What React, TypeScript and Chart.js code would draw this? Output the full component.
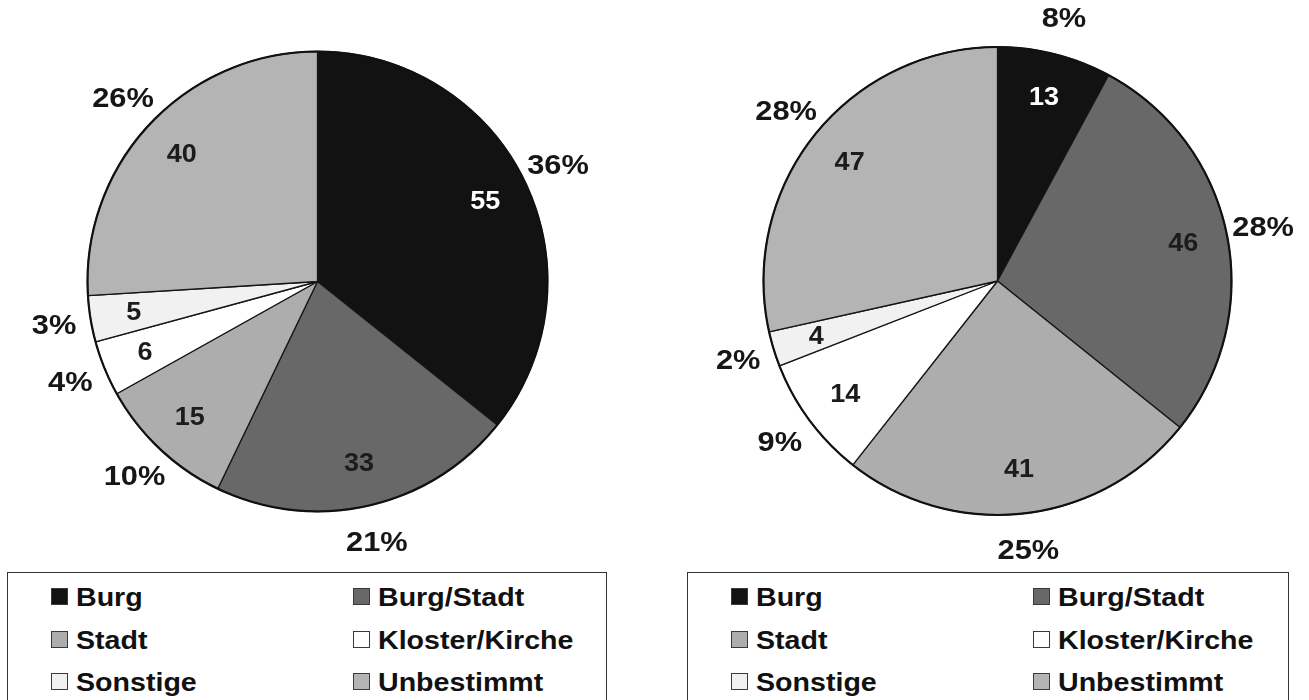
import { useEffect, useRef } from 'react';
import { Chart, PieController, ArcElement } from 'chart.js';

Chart.register(PieController, ArcElement);

// Categories and their fills
const categories = ['Burg', 'Burg/Stadt', 'Stadt', 'Kloster/Kirche', 'Sonstige', 'Unbestimmt'];
const sliceColors = ['#121212', '#686868', '#adadad', '#ffffff', '#f1f1f1', '#b4b4b4'];

// Left pie: counts and printed shares (%)
const leftCounts = [55, 33, 15, 6, 5, 40];
const leftShares = [36, 21, 10, 4, 3, 26];

// Right pie: counts and printed shares (%)
const rightCounts = [13, 46, 41, 14, 4, 47];
const rightShares = [8, 28, 25, 9, 2, 28];

const FONT = "'Liberation Sans', Arial, Helvetica, sans-serif";

// Draws text slightly widened around its centre point
function wideText(ctx: CanvasRenderingContext2D, text: string, x: number, y: number, stretch: number) {
  ctx.save();
  ctx.translate(x, y);
  ctx.scale(stretch, 1);
  ctx.fillText(text, 0, 0);
  ctx.restore();
}

const sliceLabels = {
  id: 'sliceLabels',
  afterDatasetsDraw(chart: any, _args: any, opts: any) {
    const ctx = chart.ctx as CanvasRenderingContext2D;
    const meta = chart.getDatasetMeta(0);
    const values = chart.data.datasets[0].data as number[];
    const shares = opts.shares as number[];
    if (!meta.data.length) return;
    const { x, y, outerRadius } = meta.data[0].getProps(['x', 'y', 'outerRadius'], true);
    ctx.save();
    // heavier outer rim
    ctx.beginPath();
    ctx.arc(x, y, outerRadius, 0, Math.PI * 2);
    ctx.lineWidth = 2.2;
    ctx.strokeStyle = '#111';
    ctx.stroke();

    ctx.textAlign = 'center';
    ctx.textBaseline = 'middle';
    meta.data.forEach((arc: any, i: number) => {
      const p = arc.getProps(['startAngle', 'endAngle'], true);
      const mid = (p.startAngle + p.endAngle) / 2;
      const c = Math.cos(mid);
      const s = Math.sin(mid);
      const rIn = outerRadius * 0.81;
      ctx.font = `bold 25px ${FONT}`;
      ctx.fillStyle = i === 0 ? '#ffffff' : '#1c1c1c';
      wideText(ctx, String(values[i]), x + c * rIn, y + s * rIn + 1, 1.08);
      const rOut = outerRadius + 37;
      ctx.font = `bold 28px ${FONT}`;
      ctx.fillStyle = '#161616';
      wideText(ctx, `${shares[i]}%`, x + c * rOut, y + s * rOut + 1, 1.1);
    });
    ctx.restore();
  },
};

type PieProps = {
  counts: number[];
  shares: number[];
  left: number;
  width: number;
  height: number;
  radius: number;
  padding: { left: number; right: number; top: number; bottom: number };
};

function Pie({ counts, shares, left, width, height, radius, padding }: PieProps) {
  const ref = useRef<HTMLCanvasElement | null>(null);
  useEffect(() => {
    if (!ref.current) return;
    const chart = new Chart(ref.current, {
      type: 'pie',
      data: {
        labels: categories,
        datasets: [
          {
            data: counts,
            backgroundColor: sliceColors,
            borderColor: '#151515',
            borderWidth: 1.3,
          },
        ],
      },
      options: {
        responsive: false,
        animation: false,
        events: [],
        radius,
        layout: { padding },
        plugins: {
          legend: { display: false },
          tooltip: { enabled: false },
          sliceLabels: { shares },
        } as any,
      },
      plugins: [sliceLabels],
    });
    return () => chart.destroy();
  }, [counts, shares, radius, padding]);
  return (
    <canvas
      ref={ref}
      width={width}
      height={height}
      style={{ position: 'absolute', left, top: 0, width, height }}
    />
  );
}

function LegendBox({ left, width }: { left: number; width: number }) {
  const colX = [43, 345];
  const rowY = [15, 58, 100];
  return (
    <div
      style={{
        position: 'absolute',
        left,
        top: 572,
        width,
        height: 150,
        border: '1px solid #333',
        boxSizing: 'border-box',
      }}
    >
      {categories.map((name, i) => {
        const x = colX[i % 2];
        const y = rowY[Math.floor(i / 2)];
        return (
          <div key={name}>
            <div
              style={{
                position: 'absolute',
                left: x,
                top: y,
                width: 17,
                height: 17,
                background: sliceColors[i],
                border: '1px solid #3a3a3a',
                boxSizing: 'border-box',
              }}
            />
            <div
              style={{
                position: 'absolute',
                left: x + 25,
                top: y - 4,
                font: `bold 26px ${FONT}`,
                lineHeight: '26px',
                color: '#111',
                whiteSpace: 'nowrap',
                transform: 'scaleX(1.1)',
                transformOrigin: 'left center',
              }}
            >
              {name}
            </div>
          </div>
        );
      })}
    </div>
  );
}

const leftPad = { left: 0, right: 19, top: 0, bottom: 2 };
const rightPad = { left: 32, right: 0, top: 0, bottom: 3 };

export default function App() {
  return (
    <div
      style={{
        position: 'absolute',
        left: 0,
        top: 0,
        width: 1309,
        height: 700,
        overflow: 'hidden',
        background: '#fff',
      }}
    >
      <Pie counts={leftCounts} shares={leftShares} left={0} width={654} height={565} radius={230} padding={leftPad} />
      <Pie counts={rightCounts} shares={rightShares} left={654} width={655} height={565} radius={234} padding={rightPad} />
      <LegendBox left={7} width={600} />
      <LegendBox left={687} width={602} />
    </div>
  );
}
